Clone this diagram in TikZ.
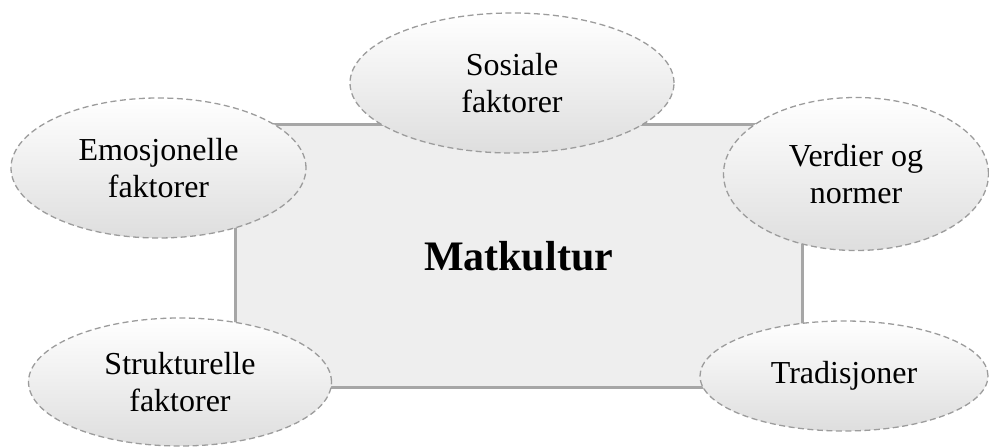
\documentclass[tikz,border=0pt]{standalone}
\usepackage{fontspec}
\setmainfont{Liberation Serif}
\usetikzlibrary{shapes.geometric}
\definecolor{rectfill}{HTML}{EEEEEE}
\definecolor{rectline}{HTML}{A6A6A6}
\definecolor{dashline}{HTML}{9C9C9C}
\definecolor{ellbot}{HTML}{DEDEDE}
\tikzset{
  centerbox/.style={draw=rectline, line width=3pt, fill=rectfill, minimum width=567pt, minimum height=263pt, inner sep=0pt, font=\fontsize{42}{48}\selectfont\bfseries},
  factor/.style={ellipse, draw=dashline, line width=1.3pt, dash pattern=on 6pt off 3.5pt, top color=white, bottom color=ellbot, inner sep=0pt, align=center, font=\fontsize{32}{37}\selectfont}
}
\begin{document}
\begin{tikzpicture}[x=1pt,y=1pt]
\useasboundingbox (0,0) rectangle (989,447);
\node[centerbox] (mat) at (518.5,190.5) {Matkultur};
\node[factor, minimum width=324pt, minimum height=140pt] (sos) at (512,364) {Sosiale\\faktorer};
\node[factor, minimum width=295pt, minimum height=140pt] (emo) at (158.5,279) {Emosjonelle\\faktorer};
\node[factor, minimum width=265pt, minimum height=153pt] (ver) at (856,273) {Verdier og\\normer};
\node[factor, minimum width=303pt, minimum height=128pt] (str) at (180,65) {Strukturelle\\faktorer};
\node[factor, minimum width=288pt, minimum height=110pt] (tra) at (844,71) {Tradisjoner};
\end{tikzpicture}
\end{document}
